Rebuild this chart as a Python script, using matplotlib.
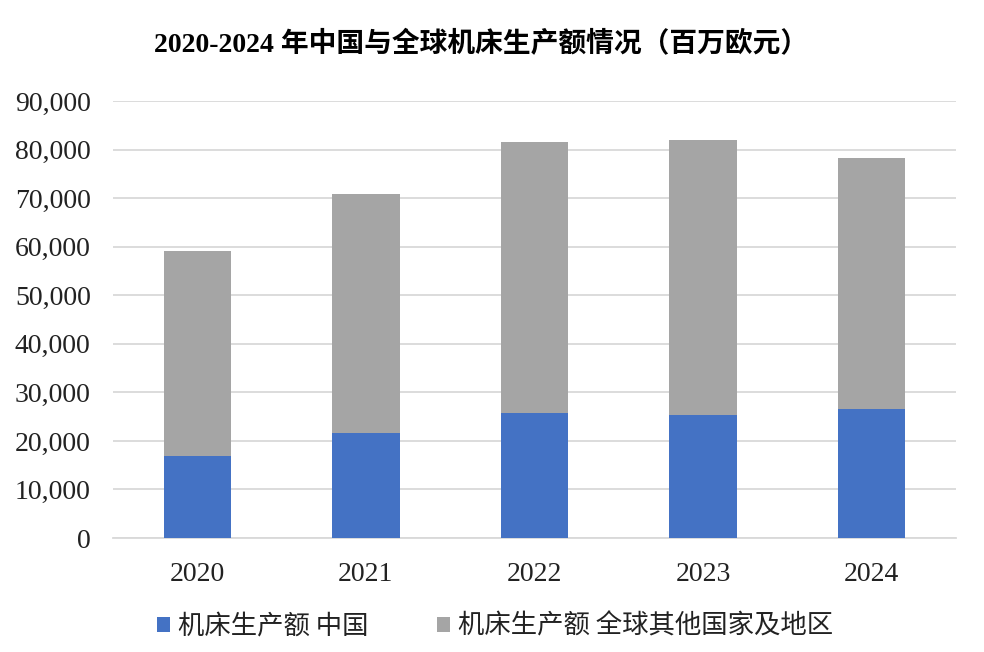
import matplotlib.pyplot as plt
import numpy as np

years = ["2020", "2021", "2022", "2023", "2024"]
china = [16970, 21620, 25680, 25270, 26560]
rest_of_world = [42130, 49220, 55810, 56630, 51690]

BLUE = "#4472C4"
GRAY = "#A5A5A5"
GRID = "#D9D9D9"
SERIF = ["Liberation Serif", "Noto Sans CJK SC"]
CJK = ["Noto Sans CJK SC", "DejaVu Sans"]

fig = plt.figure(figsize=(9.84, 6.52), dpi=100)
ax = fig.add_axes([0.1148, 0.1748, 0.8567, 0.6703])

x = np.arange(len(years))
ax.bar(x, china, width=0.4, color=BLUE, label="机床生产额 中国", zorder=3)
ax.bar(x, rest_of_world, width=0.4, bottom=china, color=GRAY,
       label="机床生产额 全球其他国家及地区", zorder=3)

ax.set_xlim(-0.5, len(years) - 0.5)
ax.set_ylim(0, 90000)
ax.set_yticks(np.arange(0, 90001, 10000))
ax.set_yticklabels([f"{v:,}" for v in range(0, 90001, 10000)],
                   family=SERIF, fontsize=20, color="#222222")
ax.set_xticks(x)
ax.set_xticklabels(years, family=SERIF, fontsize=20, color="#222222")
ax.tick_params(axis="both", length=0)
ax.tick_params(axis="y", pad=16)
ax.tick_params(axis="x", pad=17)
ax.grid(axis="y", color=GRID, lw=1.3, zorder=0)
for side in ["top", "right", "left"]:
    ax.spines[side].set_visible(False)
ax.spines["bottom"].set_color(GRID)
ax.spines["bottom"].set_linewidth(1.3)

fig.text(0.489, 0.931, "2020-2024 年中国与全球机床生产额情况（百万欧元）",
         ha="center", va="center", fontsize=20, fontweight="bold",
         family=SERIF, color="black")

leg = fig.legend(loc="center", bbox_to_anchor=(0.503, 0.04), ncol=2, frameon=False,
                 prop={"family": CJK, "size": 19}, handlelength=0.5,
                 handleheight=0.5, handletextpad=0.3, columnspacing=2.6)
for t in leg.get_texts():
    t.set_color("#222222")

fig.savefig("out.png", dpi=100, facecolor="white")
